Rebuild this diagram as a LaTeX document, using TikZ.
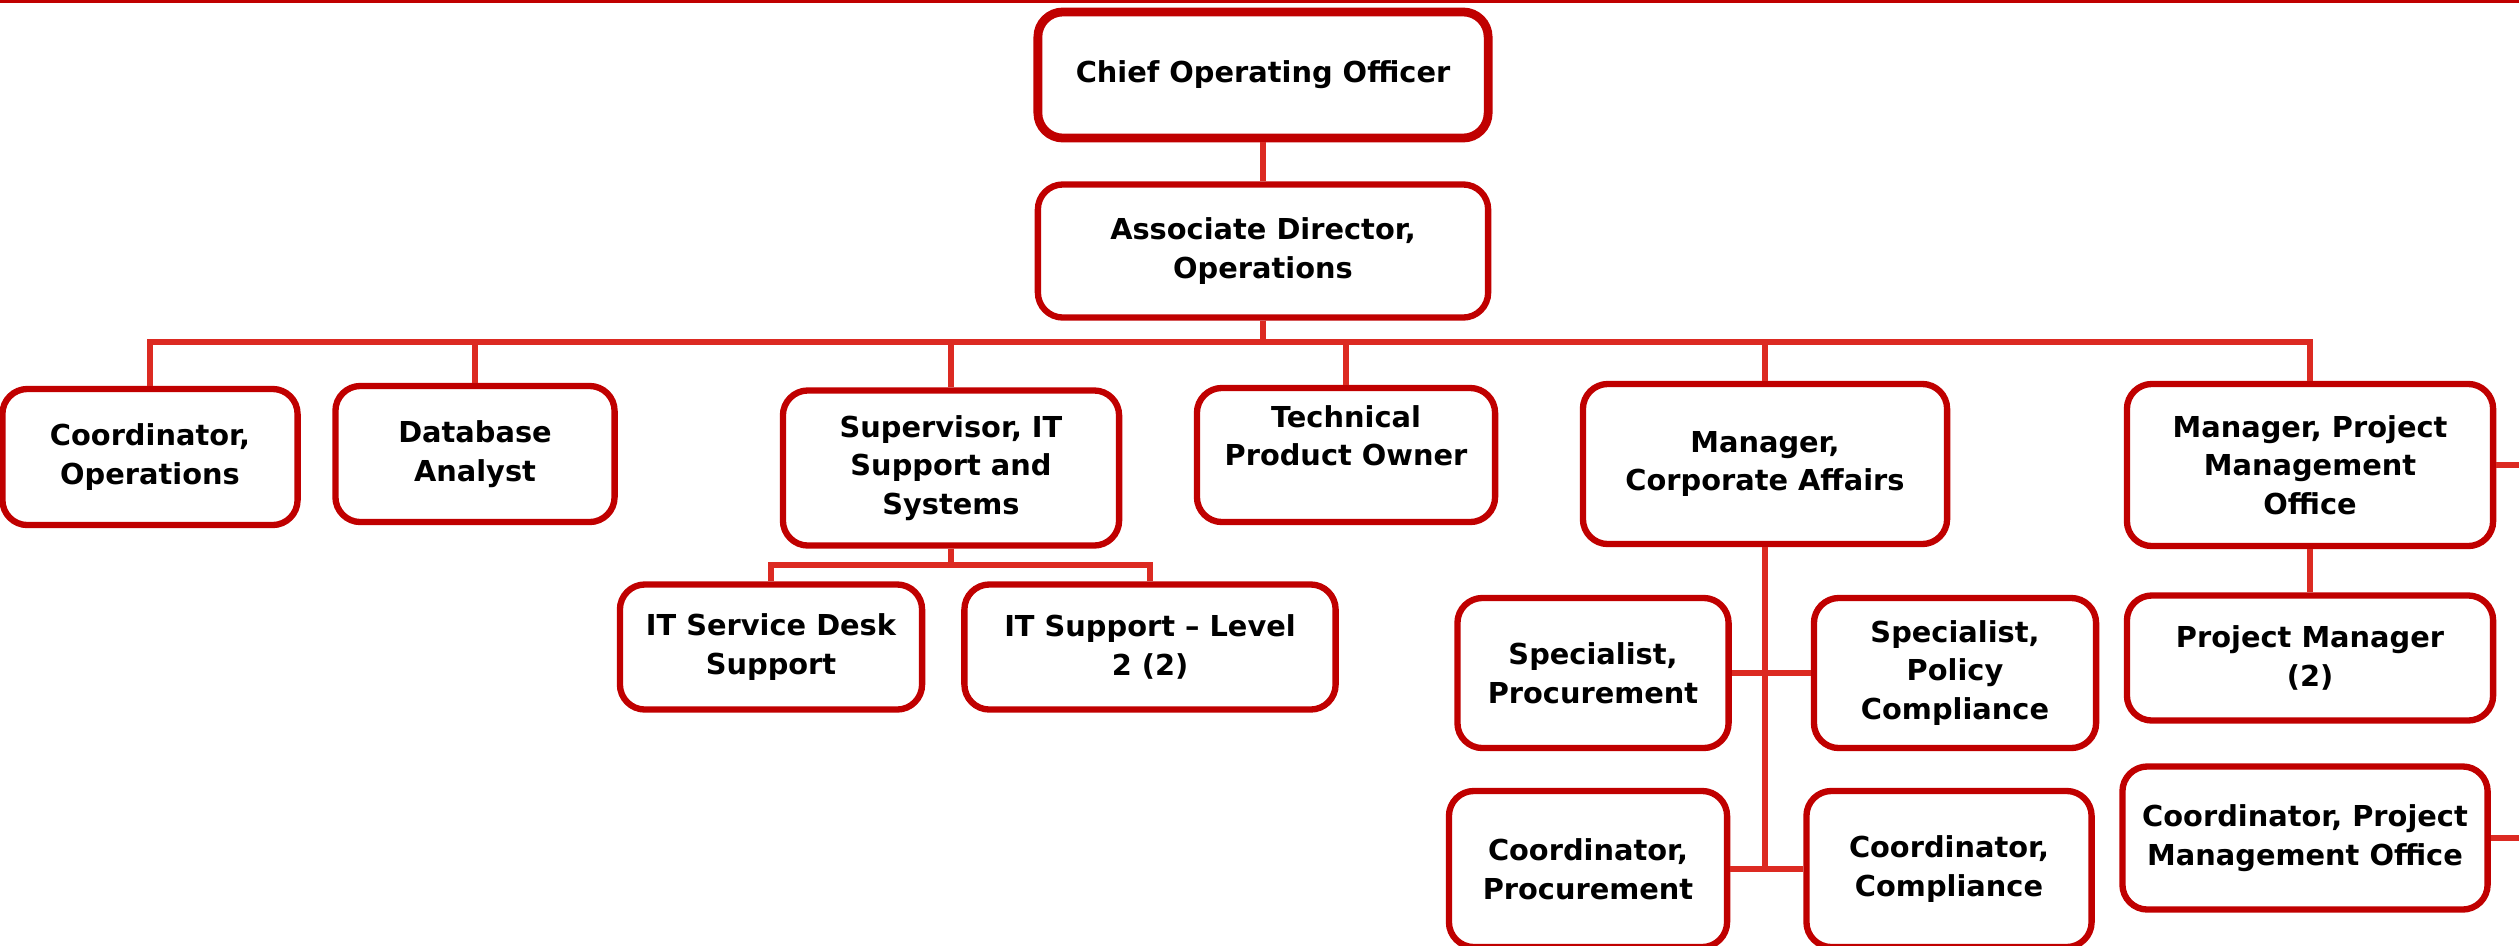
\documentclass[tikz,border=0pt]{standalone}
\usepackage{fontspec}
\setmainfont{DejaVu Sans}
\usetikzlibrary{positioning}
\definecolor{boxred}{HTML}{C00000}
\definecolor{linered}{HTML}{DC2A22}

\begin{document}
\begin{tikzpicture}[x=0.01cm, y=-0.01cm,
  role/.style={draw=boxred, line width=1.8pt, rounded corners=0.25cm, fill=white,
    align=center, inner sep=0pt, font=\fontsize{8.2}{11}\selectfont\bfseries},
  link/.style={draw=linered, line width=1.7pt}]
\useasboundingbox (0,0) rectangle (2519,945);
\draw[boxred, line width=1.5pt] (0,0) -- (2519,0);
\coordinate (offr) at (2519,0);
% Top of the chart
\node[role, line width=2.5pt, minimum width=4.5cm, minimum height=1.26cm] (coo) at (1263,75) {Chief Operating Officer};
\node[role, minimum width=4.5cm, minimum height=1.33cm] (ad) at (1263,251) {Associate Director,\\Operations};
% Direct reports
\node[role, minimum width=2.95cm, minimum height=1.36cm] (r1) at (150,457) {Coordinator,\\Operations};
\node[role, minimum width=2.79cm, minimum height=1.36cm] (r2) at (475,454) {Database\\Analyst};
\node[role, minimum width=3.36cm, minimum height=1.55cm] (r3) at (951,468) {Supervisor, IT\\Support and\\Systems};
\node[role, minimum width=2.98cm, minimum height=1.34cm] (r4) at (1346,455) {Technical\\Product Owner\\~};
\node[role, minimum width=3.64cm, minimum height=1.60cm] (r5) at (1765,464) {Manager,\\Corporate Affairs};
\node[role, minimum width=3.66cm, minimum height=1.62cm] (r6) at (2310,465) {Manager, Project\\Management\\Office};
% IT support
\node[role, minimum width=3.02cm, minimum height=1.25cm] (it1) at (771,647) {IT Service Desk\\Support};
\node[role, minimum width=3.71cm, minimum height=1.25cm] (it2) at (1150,647) {IT Support -- Level\\2 (2)};
% Corporate affairs
\node[role, minimum width=2.71cm, minimum height=1.50cm] (ca1) at (1593,673) {Specialist,\\Procurement};
\node[role, minimum width=2.82cm, minimum height=1.50cm] (ca2) at (1955,673) {Specialist,\\Policy\\Compliance};
\node[role, minimum width=2.78cm, minimum height=1.56cm] (ca3) at (1588,869) {Coordinator,\\Procurement};
\node[role, minimum width=2.85cm, minimum height=1.56cm] (ca4) at (1949,869) {Coordinator,\\Compliance};
% Project management office
\node[role, minimum width=3.66cm, minimum height=1.25cm] (pm1) at (2310,658) {Project Manager\\(2)};
\node[role, minimum width=3.65cm, minimum height=1.43cm] (pm2) at (2305,838) {Coordinator, Project\\Management Office};
% Lines
\draw[link] (coo) -- (ad);
\foreach \n in {r1,r2,r3,r4,r5,r6}
  \draw[link] (ad.south) -- ++(0,21) -| (\n.north);
\foreach \n in {it1,it2}
  \draw[link] (r3.south) -- ++(0,16) -| (\n.north);
\draw[link] (r5.south) -- (r5.south |- ca4.west);
\draw[link] (ca1.east) -- (ca1.east -| r5.south);
\draw[link] (ca2.west) -- (ca2.west -| r5.south);
\draw[link] (ca3.east) -- (ca3.east -| r5.south);
\draw[link] (ca4.west) -- (ca4.west -| r5.south);
\draw[link] (r6) -- (pm1);
\draw[link] (r6.east) -- (r6.east -| offr);
\draw[link] (pm2.east) -- (pm2.east -| offr);
\end{tikzpicture}
\end{document}
